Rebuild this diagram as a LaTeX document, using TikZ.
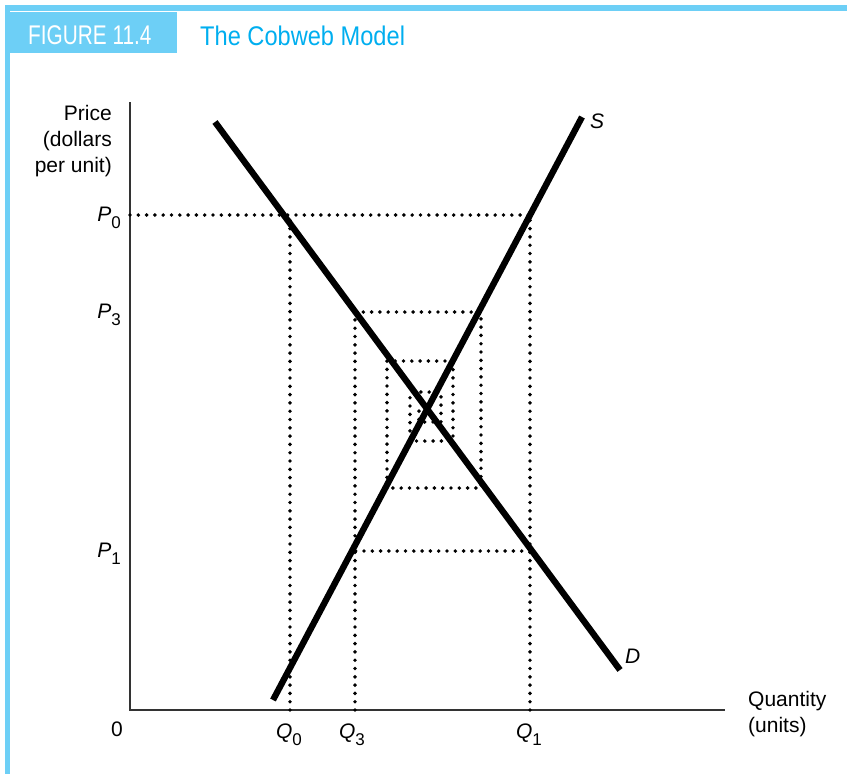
\documentclass[tikz,border=0pt]{standalone}
\usepackage{fontspec}
\setmainfont{Liberation Sans}
\usetikzlibrary{positioning}

\definecolor{figblue}{HTML}{6DCFF6}
\definecolor{titleblue}{HTML}{00AEEF}
\definecolor{axisgray}{HTML}{333333}

% italic letter with a lowered upright index
\newcommand{\idx}[2]{\textit{#1}\raisebox{-7pt}{\fontsize{17}{17}\selectfont #2}}

\begin{document}
\begin{tikzpicture}[x=1pt,y=-1pt,
    curve/.style={line width=6.3pt},
    web/.style={line width=3.9pt, line cap=round, dash pattern=on 0pt off 8.3pt},
    axis/.style={line width=1.6pt, axisgray},
    lbl/.style={inner sep=0pt, font=\fontsize{21}{26}\selectfont}]
  \useasboundingbox (0,0) rectangle (847,774);
  % frame and caption
  \fill[figblue] (5,5) rectangle (847,11);
  \fill[figblue] (5,5) rectangle (10,774);
  \fill[figblue] (10,12) rectangle (177,53);
  \node[anchor=base west, inner sep=0pt, text=white, font=\fontsize{27}{30}\selectfont]
       (fignum) at (28,44) {\scalebox{0.77}[1]{FIGURE 11.4}};
  \node[anchor=base west, inner sep=0pt, text=titleblue, font=\fontsize{27}{30}\selectfont]
       (figtitle) at (200,45) {\scalebox{0.875}[1]{The Cobweb Model}};

  % axes
  \coordinate (O) at (130,710);
  \coordinate (ytop) at (130,102);
  \coordinate (xend) at (725,710);
  \draw[axis] (ytop) -- (O) -- (xend);

  % cobweb corners
  \coordinate (p0) at (130,215);
  \coordinate (q0) at (290,710);
  \coordinate (q1) at (530,710);
  \coordinate (q3) at (355,710);
  \coordinate (q0p0) at (290,215);
  \coordinate (q1p0) at (530,215);
  \coordinate (q1p1) at (530,551);
  \coordinate (q3p1) at (355,551);
  \coordinate (q3p3) at (355,312);
  \draw[web] (p0) -- (q1p0);
  \draw[web] (q0) -- (q0p0);
  \draw[web] (q1) -- (q1p0);
  \draw[web] (q1p1) -- (q3p1);
  \draw[web] (q3) -- (q3p3);
  \draw[web] (q3p3) \foreach \x/\y in {481/312, 481/488, 387/488, 387/361, 453/361,
        453/441, 410/441, 410/392, 441/392, 441/422, 419/422, 419/407} { -- (\x,\y) };

  % demand and supply
  \coordinate (Dtop) at (215,122);
  \coordinate (Dbot) at (620,670);
  \coordinate (Sbot) at (273,700);
  \coordinate (Stop) at (582,117);
  \draw[curve] (Dtop) -- (Dbot);
  \draw[curve] (Sbot) -- (Stop);
  \node[lbl, anchor=base west] (slab) at (590,128) {\textit{S}};
  \node[lbl, anchor=base west] (dlab) at (625,663) {\textit{D}};

  % axis labels
  \node[lbl, anchor=north east, align=right] (price) at (112,105) {Price\\(dollars\\per unit)};
  \node[lbl, anchor=north west, align=left] (qty) at (748,691) {Quantity\\(units)};
  \node[lbl, anchor=base] (zero) at (117,736) {0};
  \node[lbl, anchor=base east] (P0) at (121,221) {\idx{P}{0}};
  \node[lbl, anchor=base east] (P3) at (121,318) {\idx{P}{3}};
  \node[lbl, anchor=base east] (P1) at (121,557) {\idx{P}{1}};
  \node[lbl, anchor=base] (Q0) at (289,738) {\idx{Q}{0}};
  \node[lbl, anchor=base] (Q3) at (352,738) {\idx{Q}{3}};
  \node[lbl, anchor=base] (Q1) at (529,738) {\idx{Q}{1}};
\end{tikzpicture}
\end{document}
